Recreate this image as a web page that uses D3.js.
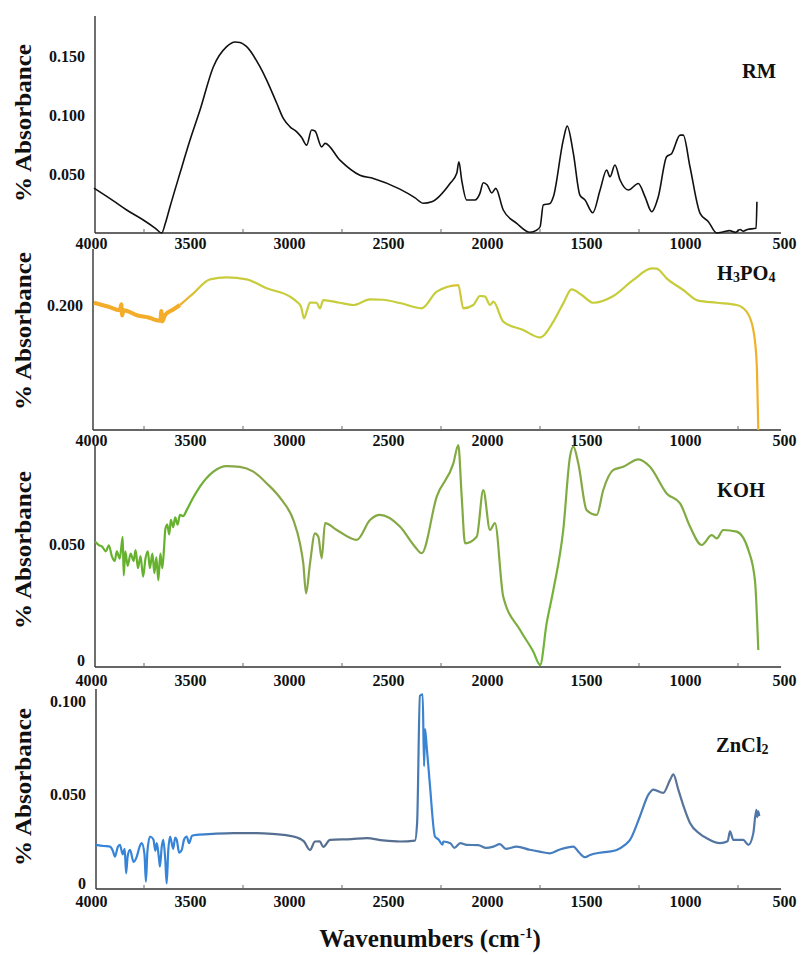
<!DOCTYPE html>
<html><head><meta charset="utf-8">
<script src="https://cdn.jsdelivr.net/npm/d3@7/dist/d3.min.js"></script>
<style>
body{margin:0;background:#fff}
text{font-family:"Liberation Serif","Times New Roman",serif;font-weight:bold;fill:#111}
</style>
</head><body>
<svg id="c" width="803" height="955"></svg>
<script>
// ---------- data ----------
const xTickValues = [4000,3500,3000,2500,2000,1500,1000,500];
const xMinorTicks = [3750,3250,2750,2250,1750,1250,750];

const rmTicks = [0.05,0.10,0.15];
const h3po4Ticks = [0.20];
const kohTicks = [0,0.05];
const zncl2Ticks = [0,0.05,0.10];

const rmSpectrum = [[4000,0.038],[3900,0.027],[3835,0.0195],[3751,0.011],[3690,0.004],[3658,0.0],[3640,0.008],[3616,0.0223],[3566,0.0506],[3515,0.0788],[3465,0.104],[3397,0.141],[3330,0.158],[3288,0.162],[3263,0.1616],[3229,0.158],[3162,0.141],[3128,0.1297],[3077,0.110],[3044,0.0972],[3010,0.090],[2976,0.0858],[2951,0.081],[2926,0.0745],[2901,0.0873],[2884,0.0865],[2850,0.073],[2833,0.076],[2758,0.0618],[2657,0.049],[2589,0.0463],[2455,0.0372],[2380,0.030],[2337,0.0252],[2294,0.0265],[2202,0.042],[2168,0.0506],[2157,0.0604],[2143,0.0449],[2118,0.028],[2076,0.028],[2051,0.0336],[2034,0.0426],[2014,0.0407],[1991,0.034],[1971,0.0378],[1933,0.0195],[1865,0.0082],[1798,0.0006],[1764,0.0025],[1747,0.0053],[1731,0.0237],[1697,0.025],[1680,0.0307],[1630,0.0788],[1610,0.0906],[1579,0.0675],[1546,0.0322],[1520,0.028],[1481,0.0172],[1444,0.0364],[1411,0.0534],[1394,0.0477],[1369,0.0576],[1343,0.0449],[1301,0.0364],[1251,0.042],[1217,0.0307],[1183,0.018],[1150,0.0307],[1108,0.0646],[1082,0.0675],[1040,0.083],[1024,0.083],[990,0.0562],[939,0.0167],[897,0.0096],[855,0.0],[820,0.001],[790,0.002],[760,0.0005],[737,0.003],[721,0.0015],[700,0.003],[656,0.004],[652,0.0265]];

const h3po4Noisy = [[4000,0.2015],[3960,0.2],[3930,0.199],[3870,0.1965],[3862,0.2005],[3858,0.193],[3850,0.1965],[3780,0.193],[3720,0.1915],[3700,0.1905],[3665,0.1895],[3660,0.196],[3655,0.189],[3640,0.1935],[3600,0.197],[3566,0.2]];
const h3po4Spectrum = [[3566,0.2],[3498,0.2078],[3414,0.2171],[3330,0.2184],[3229,0.2171],[3128,0.2111],[3010,0.2056],[2976,0.2022],[2955,0.199],[2939,0.1911],[2925,0.196],[2909,0.2016],[2875,0.2015],[2859,0.1978],[2842,0.2033],[2760,0.2015],[2690,0.2],[2606,0.2038],[2540,0.2035],[2455,0.2013],[2345,0.1978],[2269,0.2089],[2160,0.2133],[2135,0.1978],[2084,0.2],[2051,0.206],[2026,0.2058],[2000,0.2],[1983,0.2022],[1933,0.1889],[1832,0.1833],[1747,0.1784],[1680,0.1889],[1630,0.2011],[1588,0.2104],[1537,0.2067],[1478,0.2015],[1377,0.206],[1276,0.2167],[1183,0.2244],[1158,0.2242],[1108,0.2178],[1024,0.21],[948,0.2029],[855,0.2015],[754,0.2],[704,0.1956],[670,0.1833],[653,0.1611],[648,0.135],[645,0.1167]];

const kohSpectrum = [[3995,0.051],[3975,0.0495],[3960,0.049],[3940,0.047],[3925,0.0495],[3910,0.045],[3895,0.043],[3885,0.047],[3870,0.044],[3855,0.053],[3850,0.037],[3842,0.047],[3830,0.041],[3815,0.046],[3800,0.043],[3790,0.0475],[3778,0.040],[3765,0.045],[3752,0.0365],[3740,0.044],[3728,0.047],[3718,0.040],[3705,0.046],[3695,0.038],[3685,0.0445],[3675,0.035],[3665,0.046],[3655,0.040],[3645,0.050],[3640,0.056],[3630,0.058],[3620,0.054],[3612,0.060],[3600,0.057],[3590,0.061],[3578,0.058],[3566,0.062],[3550,0.0615],[3532,0.064],[3500,0.069],[3465,0.0737],[3397,0.0799],[3330,0.0822],[3263,0.0819],[3195,0.0799],[3128,0.0751],[3052,0.0682],[2993,0.0599],[2960,0.0503],[2943,0.042],[2929,0.0296],[2909,0.042],[2884,0.0544],[2867,0.053],[2850,0.0441],[2833,0.0586],[2774,0.0558],[2673,0.0517],[2606,0.0599],[2556,0.062],[2455,0.0572],[2379,0.0489],[2345,0.0462],[2269,0.0696],[2185,0.0833],[2160,0.0909],[2143,0.0696],[2126,0.0503],[2067,0.053],[2034,0.0723],[2000,0.0558],[1975,0.0586],[1933,0.0282],[1848,0.0145],[1781,0.0055],[1747,0.0],[1714,0.0172],[1680,0.031],[1630,0.0558],[1596,0.0861],[1579,0.0902],[1554,0.0833],[1512,0.064],[1461,0.062],[1428,0.0723],[1377,0.0806],[1327,0.0819],[1251,0.085],[1192,0.0819],[1108,0.0709],[1040,0.0668],[990,0.0572],[931,0.0496],[880,0.0537],[855,0.0523],[822,0.0558],[754,0.0551],[695,0.0475],[662,0.0351],[645,0.0062]];

const zncl2Spectrum = [[3990,0.0231],[3950,0.0225],[3919,0.0222],[3905,0.020],[3894,0.0168],[3880,0.022],[3869,0.0231],[3855,0.018],[3845,0.021],[3838,0.0079],[3830,0.017],[3818,0.0204],[3800,0.014],[3784,0.0168],[3770,0.022],[3759,0.024],[3745,0.018],[3738,0.0034],[3730,0.02],[3717,0.0276],[3700,0.026],[3690,0.02],[3683,0.024],[3672,0.016],[3667,0.0115],[3658,0.022],[3650,0.0258],[3640,0.015],[3633,0.0025],[3625,0.02],[3616,0.0276],[3600,0.021],[3590,0.027],[3582,0.0258],[3570,0.019],[3557,0.0204],[3545,0.026],[3532,0.0276],[3520,0.024],[3505,0.028],[3481,0.0285],[3400,0.029],[3296,0.0294],[3178,0.0294],[3100,0.029],[2993,0.0276],[2940,0.025],[2909,0.0204],[2884,0.0249],[2860,0.025],[2842,0.022],[2808,0.0258],[2700,0.0262],[2623,0.0267],[2540,0.0255],[2455,0.0249],[2379,0.0254],[2368,0.035],[2354,0.1028],[2340,0.1037],[2333,0.0652],[2328,0.085],[2320,0.076],[2303,0.0545],[2278,0.0276],[2260,0.026],[2240,0.0232],[2236,0.0249],[2200,0.024],[2180,0.0215],[2150,0.024],[2118,0.0231],[2060,0.023],[2020,0.0215],[1983,0.0222],[1950,0.0235],[1920,0.021],[1865,0.0222],[1800,0.0205],[1750,0.0195],[1697,0.0186],[1650,0.0205],[1579,0.0222],[1550,0.019],[1520,0.0165],[1495,0.0177],[1440,0.019],[1400,0.0195],[1360,0.0204],[1320,0.023],[1293,0.0258],[1243,0.0383],[1200,0.050],[1175,0.0527],[1125,0.0509],[1090,0.058],[1074,0.0608],[1049,0.0527],[1020,0.043],[990,0.0348],[940,0.029],[906,0.0267],[838,0.024],[800,0.025],[788,0.0303],[771,0.0258],[721,0.0258],[695,0.0231],[670,0.0294],[655,0.0419],[650,0.038],[645,0.041],[640,0.0385]];

// ---------- layout ----------
const svg = d3.select("#c");
const x = d3.scaleLinear().domain([4000,500]).range([94,787]);
const fmt3 = d => d === 0 ? "0" : d3.format(".3f")(d);
const defs = svg.append("defs");

function gradient(id, stops){
  const g = defs.append("linearGradient").attr("id", id)
    .attr("gradientUnits","userSpaceOnUse").attr("x1",94).attr("x2",787).attr("y1",0).attr("y2",0);
  stops.forEach(s => g.append("stop").attr("offset", s[0]).attr("stop-color", s[1]));
}
gradient("gH",[[0,"#f3ad2a"],[0.12,"#f3ad2a"],[0.16,"#c9cc3c"],[0.5,"#c4cd3a"],[0.52,"#d9c235"],[0.54,"#c4cd3a"],[0.93,"#c8cb3a"],[0.955,"#f2b02a"],[1,"#f2b02a"]]);
gradient("gK",[[0,"#66b22e"],[0.14,"#66b22e"],[0.2,"#89a648"],[0.6,"#80ab40"],[0.64,"#6db636"],[0.7,"#86a846"],[1,"#7aae3e"]]);
gradient("gZ",[[0,"#3584d8"],[0.15,"#3584d8"],[0.2,"#566f90"],[0.46,"#566f90"],[0.475,"#3a84d4"],[0.5,"#3a84d4"],[0.52,"#4f7aac"],[0.78,"#3f80cc"],[0.82,"#5a7395"],[1,"#4a78b0"]]);

const panels = [
  {name:"RM", data:rmSpectrum, stroke:"#111", width:1.6, axisX:95, top:16, bottom:233, yDomain:[0,0.184], ticks:rmTicks, labelX:742, labelY:78, titleY:123, xLabelDy:11},
  {name:"H3PO4", data:h3po4Spectrum, noisy:h3po4Noisy, stroke:"url(#gH)", width:2.2, axisX:93, top:249, bottom:430, yDomain:[0.11667,0.23733], ticks:h3po4Ticks, labelX:717, labelY:280, titleY:331, xLabelDy:11},
  {name:"KOH", data:kohSpectrum, stroke:"url(#gK)", width:2.2, axisX:95, top:445, bottom:667, yDomain:[-0.0008,0.0909], ticks:kohTicks, labelX:717, labelY:497, titleY:550, xLabelDy:14},
  {name:"ZnCl2", data:zncl2Spectrum, stroke:"url(#gZ)", width:2.2, axisX:96, top:689, bottom:889, yDomain:[-0.0005,0.1065], ticks:zncl2Ticks, labelX:716, labelY:752, titleY:787, xLabelDy:13}
];

panels.forEach(p => {
  const y = d3.scaleLinear().domain(p.yDomain).range([p.bottom, p.top]);
  const g = svg.append("g");
  const line = d3.line().x(d => x(d[0])).y(d => y(d[1])).curve(d3.curveMonotoneX);

  g.append("line").attr("x1", p.axisX).attr("x2", x(530)).attr("y1", p.bottom).attr("y2", p.bottom)
    .attr("stroke","#333").attr("stroke-width",1.4);
  g.append("line").attr("x1", p.axisX).attr("x2", p.axisX).attr("y1", p.top).attr("y2", p.bottom)
    .attr("stroke","#333").attr("stroke-width",1.4);

  const minor = g.append("g").attr("transform", `translate(0,${p.bottom})`)
    .call(d3.axisBottom(x).tickValues(xMinorTicks).tickSize(-4).tickFormat(""));
  minor.select(".domain").remove();
  minor.selectAll("line").attr("stroke","#666").attr("stroke-width",1);

  const xa = g.append("g").attr("transform", `translate(0,${p.bottom})`)
    .call(d3.axisBottom(x).tickValues(xTickValues).tickSize(0).tickPadding(0).tickFormat(d3.format("d")));
  xa.select(".domain").remove();
  xa.selectAll("text").attr("y", p.xLabelDy).attr("dy","0.32em").attr("x",-3)
    .style("font-size","16px").style("font-family","'Liberation Serif',serif").style("font-weight","bold").attr("fill","#111");

  const ya = g.append("g").attr("transform", `translate(${p.axisX},0)`)
    .call(d3.axisLeft(y).tickValues(p.ticks).tickSize(0).tickPadding(10).tickFormat(fmt3));
  ya.select(".domain").remove();
  ya.selectAll("text").style("font-size","16px").style("font-family","'Liberation Serif',serif").style("font-weight","bold").attr("fill","#111")
    .attr("dy", d => d === 0 ? "0.05em" : "0.32em");

  if (p.noisy) {
    g.append("path").datum(p.noisy).attr("d", line).attr("fill","none")
      .attr("stroke","#f3ad2a").attr("stroke-width",4).attr("stroke-linejoin","round");
  }
  g.append("path").datum(p.data).attr("d", line).attr("fill","none")
    .attr("stroke", p.stroke).attr("stroke-width", p.width).attr("stroke-linejoin","round");

  const t = g.append("text").attr("x", p.labelX).attr("y", p.labelY).style("font-size","20.5px");
  const m = p.name.match(/([A-Za-z]+|\d+)/g);
  m.forEach(part => {
    if (/^\d+$/.test(part)) {
      t.append("tspan").text(part).style("font-size","14px").attr("dy", 2);
    } else {
      const ts = t.append("tspan").text(part);
      if (t.selectAll("tspan").size() > 1) ts.attr("dy", -2);
    }
  });

  svg.append("text").attr("transform", `translate(31,${p.titleY}) rotate(-90)`)
    .attr("text-anchor","middle").style("font-size","24px")
    .attr("textLength",158).attr("lengthAdjust","spacingAndGlyphs")
    .text("% Absorbance");
});

const xt = svg.append("text").attr("x", 430).attr("y", 947).attr("text-anchor","middle").style("font-size","25px");
xt.append("tspan").text("Wavenumbers (cm");
xt.append("tspan").text("-1").style("font-size","15px").attr("dy",-9);
xt.append("tspan").text(")").attr("dy",9);
</script>
</body></html>
